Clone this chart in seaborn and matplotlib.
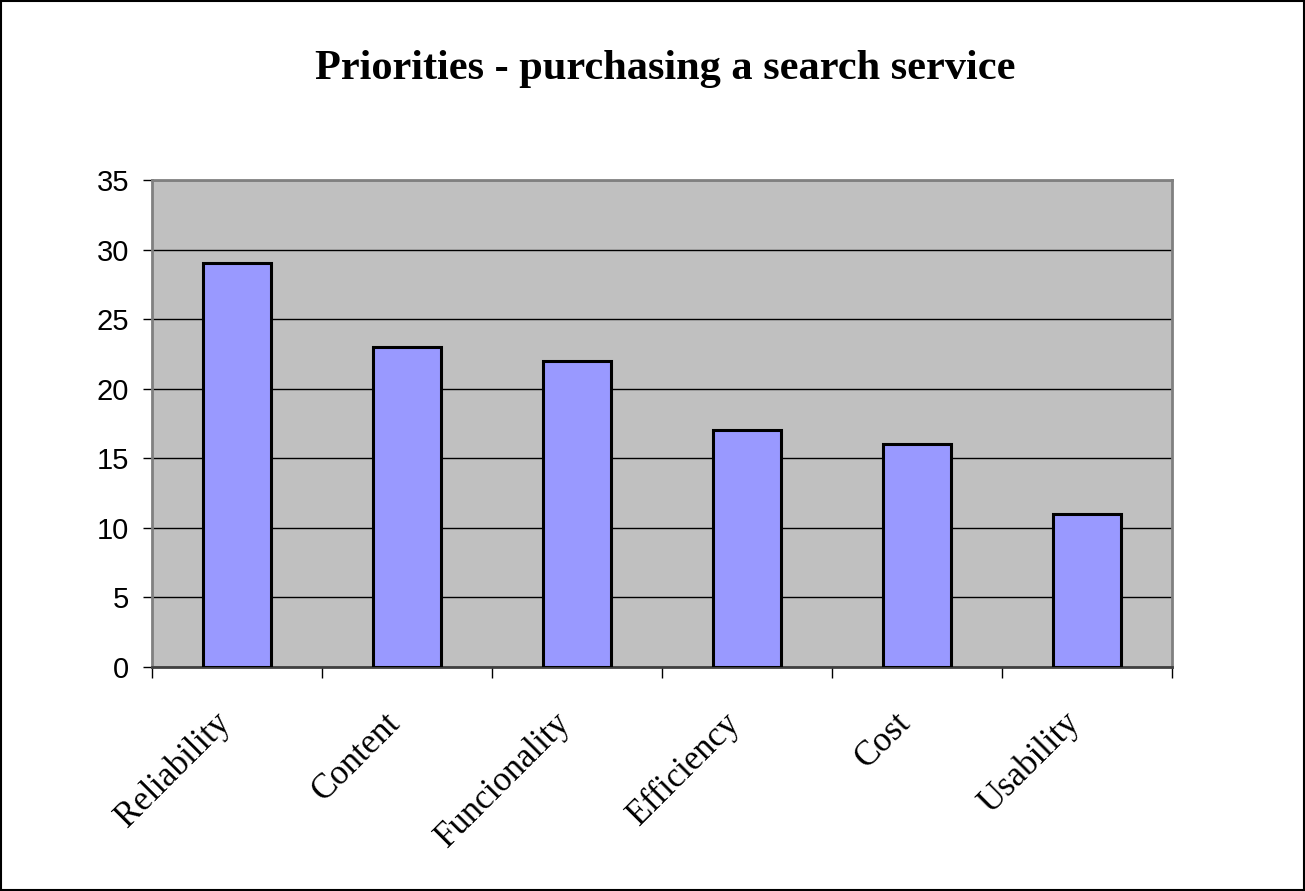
import numpy as np
import pandas as pd
import matplotlib
matplotlib.use("Agg")
import matplotlib.pyplot as plt
import seaborn as sns
from matplotlib.patches import Rectangle

# chart data
categories = ["Reliability", "Content", "Funcionality", "Efficiency", "Cost", "Usability"]
values = [29, 23, 22, 17, 16, 11]
y_ticks = [0, 5, 10, 15, 20, 25, 30, 35]
title = "Priorities - purchasing a search service"

df = pd.DataFrame({"category": categories, "value": values})

sns.set_theme(style="white")
plt.rcParams['font.family'] = ['Liberation Sans', 'DejaVu Sans']
plt.rcParams['text.color'] = 'black'
plt.rcParams['xtick.color'] = 'black'
plt.rcParams['ytick.color'] = 'black'

fig = plt.figure(figsize=(13.05, 8.91), dpi=100)
ax = fig.add_axes([0.1165, 0.2514, 0.7816, 0.5466])
ax.set_facecolor("#c0c0c0")

sns.barplot(data=df, x="category", y="value", ax=ax, color="#9999ff",
            saturation=1, width=0.4, edgecolor="black", linewidth=2.2, zorder=3)

ax.set_xlim(-0.5, len(categories) - 0.5)
ax.set_ylim(0, 35)
ax.set_yticks(y_ticks)
ax.set_yticklabels([str(t) for t in y_ticks], fontsize=21, family=['Liberation Sans'],
                   color='black')
ax.yaxis.grid(True, color="black", linewidth=1)
ax.set_axisbelow(True)
ax.tick_params(axis='y', which='major', left=True, length=6.5, width=1, color="black", pad=10)

# category boundary ticks on the x axis
ax.set_xticks(np.arange(len(categories) + 1) - 0.5)
ax.set_xticklabels([])
ax.tick_params(axis='x', which='major', bottom=True, length=8, width=1, color="black")
ax.set_xticks(np.arange(len(categories)), minor=True)
ax.set_xticklabels(categories, minor=True, rotation=45, ha='right', va='bottom',
                   rotation_mode='anchor', fontsize=25, family=['Liberation Serif'],
                   color='black')
ax.tick_params(axis='x', which='minor', bottom=False, length=0, pad=45)

ax.set_xlabel("")
ax.set_ylabel("")
for side in ['top', 'right', 'left']:
    ax.spines[side].set_color("#808080")
    ax.spines[side].set_linewidth(2)
ax.spines['bottom'].set_color("#404040")
ax.spines['bottom'].set_linewidth(2)

fig.text(0.5096, 0.911, title, ha='center', va='baseline', fontsize=30.5,
         fontweight='bold', family=['Liberation Serif'], color='black')

fig.patches.append(Rectangle((0.0008, 0.0011), 0.9984, 0.9978, transform=fig.transFigure,
                             fill=False, edgecolor="black", linewidth=1.5))

plt.savefig("out.png", dpi=100)
